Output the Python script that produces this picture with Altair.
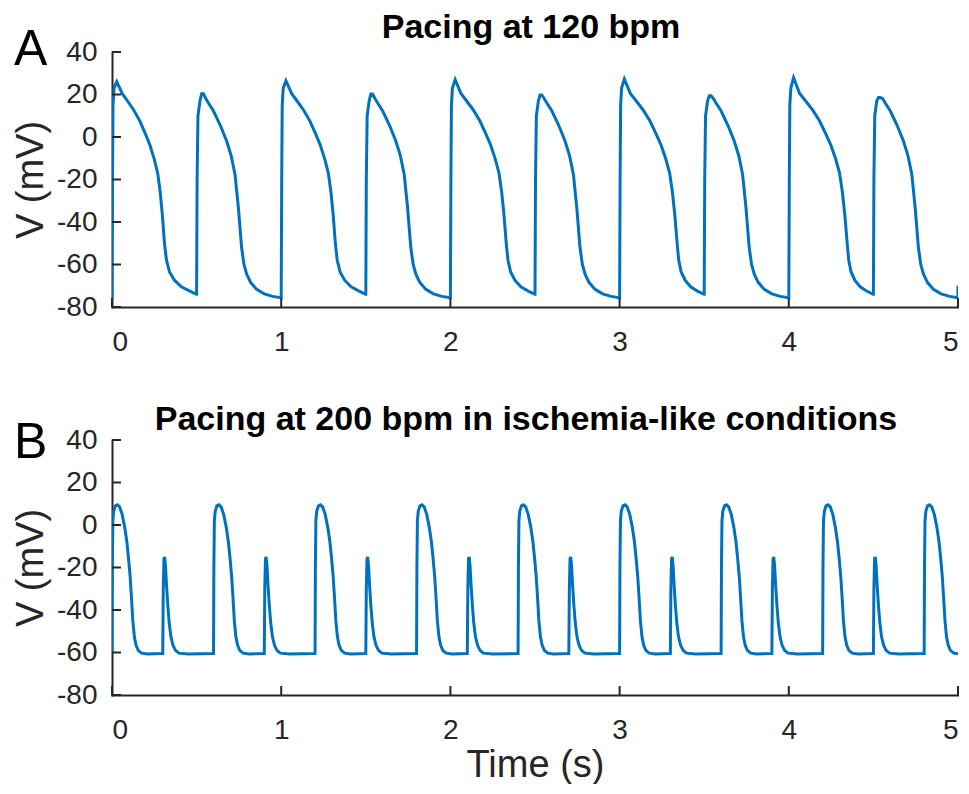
import altair as alt
import pandas as pd

X_TICKS = [0, 1, 2, 3, 4, 5]
Y_TICKS = [-80, -60, -40, -20, 0, 20, 40]

# ---------- Panel A: pacing at 120 bpm (alternating beats) ----------
A_TALL_ONSETS = [0.0, 1.0, 2.0, 3.0, 4.0]
A_TALL_PEAKS = [26.0, 26.5, 27.0, 27.3, 27.9]
A_TALL_REPOL_DELAY = [0.0, 0.01, 0.02, 0.03, 0.035]   # later repolarisation (s)
A_SHORT_ONSETS = [0.5, 1.5, 2.5, 3.5, 4.5]
A_SHORT_PEAKS = [20.4, 20.2, 19.8, 19.4, 18.6]

# beat shapes: time since onset (s) and membrane potential (mV)
A_TALL_DT = [0.000, 0.003, 0.006, 0.012, 0.028, 0.060, 0.100, 0.130, 0.165, 0.200,
             0.225, 0.250, 0.270, 0.285, 0.298, 0.310, 0.322, 0.340, 0.370, 0.410,
             0.460, 0.499]
A_TALL_V = [-75.6, -20.0, 15.0, 23.0, None, 20.5, 16.0, 12.5, 7.5, 1.0,
            -4.0, -10.5, -17.0, -26.0, -37.0, -50.0, -58.0, -63.5, -67.5, -70.5,
            -72.5, -74.0]
A_SHORT_DT = [0.000, 0.003, 0.008, 0.020, 0.030, 0.040, 0.055, 0.070, 0.100, 0.140,
              0.178, 0.205, 0.227, 0.247, 0.266, 0.280, 0.296, 0.320, 0.355, 0.400,
              0.450, 0.499]
A_SHORT_V = [-74.0, -20.0, 10.0, 17.0, None, None, 18.0, 16.0, 12.2, 5.5,
             -2.0, -9.0, -17.6, -33.3, -52.0, -60.0, -64.6, -68.5, -71.7, -73.8,
             -75.0, -75.6]
A_END_T = [5.0]
A_END_V = [-70.0]

# ---------- Panel B: pacing at 200 bpm, ischemia-like ----------
B_BIG_ONSETS = [0.0, 0.6, 1.2, 1.8, 2.4, 3.0, 3.6, 4.2, 4.8]
B_SMALL_ONSETS = [0.3, 0.9, 1.5, 2.1, 2.7, 3.3, 3.9, 4.5]
B_BIG_DT = [0.000, 0.002, 0.005, 0.010, 0.020, 0.032, 0.045, 0.060, 0.075, 0.088,
            0.098, 0.107, 0.115, 0.123, 0.132, 0.142, 0.155, 0.175, 0.210, 0.299]
B_BIG_V = [-60.5, -20.0, 2.0, 6.5, 9.0, 9.5, 8.5, 5.0, -1.0, -8.0,
           -16.0, -24.0, -34.0, -45.0, -52.5, -56.5, -59.0, -60.3, -60.7, -60.5]
B_SMALL_DT = [0.000, 0.003, 0.007, 0.011, 0.016, 0.022, 0.030, 0.038, 0.048, 0.060,
              0.075, 0.095, 0.150, 0.299]
B_SMALL_V = [-60.5, -30.0, -16.0, -15.0, -19.0, -28.0, -38.0, -46.0, -52.5, -56.5,
             -59.0, -60.3, -60.7, -60.5]

TITLE_A = "Pacing at 120 bpm"
TITLE_B = "Pacing at 200 bpm in ischemia-like conditions"


def delayed(dts, delay, start=0.028, mid=0.31, stop=0.46):
    # push the repolarisation of one beat later by `delay` s, tapering to 0 at both ends
    out = []
    for dt in dts:
        if start < dt <= mid:
            dt = dt + delay * (dt - start) / (mid - start)
        elif mid < dt < stop:
            dt = dt + delay * (stop - dt) / (stop - mid)
        out.append(dt)
    return out


def build(beats, end_t=(), end_v=()):
    rows = []
    for onset, peak, dts, vs in sorted(beats, key=lambda b: b[0]):
        for dt, v in zip(dts, vs):
            rows.append((onset + dt, peak if v is None else v))
    rows += list(zip(end_t, end_v))
    df = pd.DataFrame(rows, columns=["t", "v"])
    df["i"] = range(len(df))
    return df


df_a = build(
    [(o, p, delayed(A_TALL_DT, d), A_TALL_V)
     for o, p, d in zip(A_TALL_ONSETS, A_TALL_PEAKS, A_TALL_REPOL_DELAY)]
    + [(o, p, A_SHORT_DT, A_SHORT_V) for o, p in zip(A_SHORT_ONSETS, A_SHORT_PEAKS)],
    A_END_T, A_END_V)
df_b = build(
    [(o, None, B_BIG_DT, B_BIG_V) for o in B_BIG_ONSETS]
    + [(o, None, B_SMALL_DT, B_SMALL_V) for o in B_SMALL_ONSETS])

W, H = 846, 255
AX = "#262626"
BLUE = "#0072BD"
FONT = "Liberation Sans"
XS = alt.Scale(domain=[0, 5], nice=False, zero=False)
YS = alt.Scale(domain=[-80, 40], nice=False, zero=False)


def panel(df, title, letter, title_x, title_y, letter_y, x_title):
    x_kw = dict(values=X_TICKS, labelExpr="datum.value + ''", ticks=False, tickSize=0,
                labelPadding=21, grid=False)
    if x_title:
        x_kw.update(title=x_title, titlePadding=2)
    else:
        x_kw.update(title=None)
    x_axis = alt.Axis(**x_kw)
    y_axis = alt.Axis(values=Y_TICKS, labelExpr="datum.value + ''", ticks=False, tickSize=0,
                      labelPadding=15, title="V (mV)", titlePadding=6, grid=False)
    line = alt.Chart(df).mark_line(color=BLUE, strokeWidth=3, clip=True).encode(
        x=alt.X("t:Q", scale=XS, axis=x_axis),
        y=alt.Y("v:Q", scale=YS, axis=y_axis),
        order="i:Q",
    )
    ytick = alt.Chart(pd.DataFrame({"v": Y_TICKS})).mark_rule(color=AX, strokeWidth=2).encode(
        y=alt.Y("v:Q", scale=YS, axis=y_axis), x=alt.value(0), x2=alt.value(9))
    xtick = alt.Chart(pd.DataFrame({"t": X_TICKS})).mark_rule(color=AX, strokeWidth=2).encode(
        x=alt.X("t:Q", scale=XS, axis=x_axis), y=alt.value(H), y2=alt.value(H - 9))
    lab = alt.Chart(pd.DataFrame({"s": [letter]})).mark_text(
        align="left", baseline="alphabetic", fontSize=50, font=FONT, color="black").encode(
        x=alt.value(-98), y=alt.value(letter_y), text="s:N")
    ttl = alt.Chart(pd.DataFrame({"s": [title]})).mark_text(
        align="center", baseline="alphabetic", fontSize=34, fontWeight="bold", font=FONT,
        color="black").encode(x=alt.value(title_x), y=alt.value(title_y), text="s:N")
    return alt.layer(line, ytick, xtick, lab, ttl).properties(width=W, height=H)


top = panel(df_a, TITLE_A, "A", 419, -14, 13, None)
bottom = panel(df_b, TITLE_B, "B", 414, -10, 18, "Time (s)")

chart = alt.vconcat(top, bottom, spacing=47).properties(
    padding={"left": 4, "top": 3, "right": 0, "bottom": 0}
).configure_view(stroke=None).configure_axis(
    domainColor=AX, domainWidth=2, domainCap="square",
    labelFont=FONT, labelFontSize=28, labelColor=AX,
    titleFont=FONT, titleFontSize=38, titleFontWeight="normal", titleColor=AX,
)

chart.save("out.html", embed_options={"renderer": "svg", "actions": False})
